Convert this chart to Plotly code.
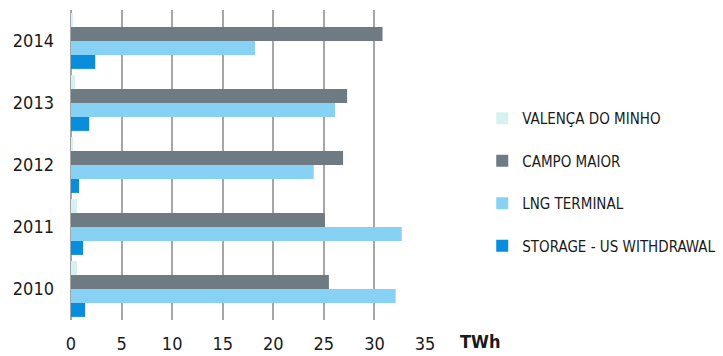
import plotly.graph_objects as go

years = ["2010", "2011", "2012", "2013", "2014"]
valenca = [0.6, 0.6, 0.2, 0.4, 0.2]
campo_maior = [25.5, 25.1, 26.9, 27.3, 30.8]
lng_terminal = [32.1, 32.7, 24.0, 26.1, 18.2]
storage = [1.4, 1.2, 0.8, 1.8, 2.4]

x_ticks = [0, 5, 10, 15, 20, 25, 30, 35]

FONT = "DejaVu Sans Condensed, DejaVu Sans, sans-serif"

series = [
    ("STORAGE - US WITHDRAWAL", storage, "#0a8ddc", "g4", 4),
    ("LNG TERMINAL", lng_terminal, "#87d1f4", "g3", 3),
    ("CAMPO MAIOR", campo_maior, "#6f7b83", "g2", 2),
    ("VALENÇA DO MINHO", valenca, "#d6f1f1", "g1", 1),
]

fig = go.Figure()
for name, vals, color, grp, rank in series:
    fig.add_trace(go.Bar(
        y=years, x=vals, name=name, orientation="h",
        marker=dict(color=color, line=dict(width=0)),
        legendgroup=grp, legendrank=rank,
    ))

fig.update_layout(
    width=723, height=356,
    margin=dict(l=71, r=298, t=10, b=36),
    paper_bgcolor="white", plot_bgcolor="white",
    barmode="group", bargap=0.1, bargroupgap=0,
    font=dict(family=FONT, color="#1a1a1a"),
    xaxis=dict(
        range=[0, 35], tickvals=x_ticks, showgrid=True,
        gridcolor="#a6a6a6", gridwidth=2, zeroline=True,
        zerolinecolor="#a6a6a6", zerolinewidth=2,
        tickfont=dict(size=18, family=FONT, color="#1a1a1a"),
        ticks="", ticklabelstandoff=11, fixedrange=True,
        automargin=False,
    ),
    yaxis=dict(
        showgrid=False, zeroline=False, ticks="",
        tickfont=dict(size=18, family=FONT, color="#1a1a1a"),
        ticklabelstandoff=16, automargin=False,
    ),
    legend=dict(
        xref="container", yref="container",
        x=0.667, y=0.489, xanchor="left", yanchor="middle",
        traceorder="grouped", tracegroupgap=20,
        font=dict(size=15, family=FONT, color="#1a1a1a"),
        itemwidth=30,
    ),
    showlegend=True,
)

fig.add_annotation(
    text="<b>TWh</b>", xref="paper", yref="paper",
    x=1.094, y=-0.0, xanchor="left", yanchor="top",
    showarrow=False, yshift=-9,
    font=dict(size=18, family=FONT, color="#1a1a1a"),
)

fig.write_html("out.html")
